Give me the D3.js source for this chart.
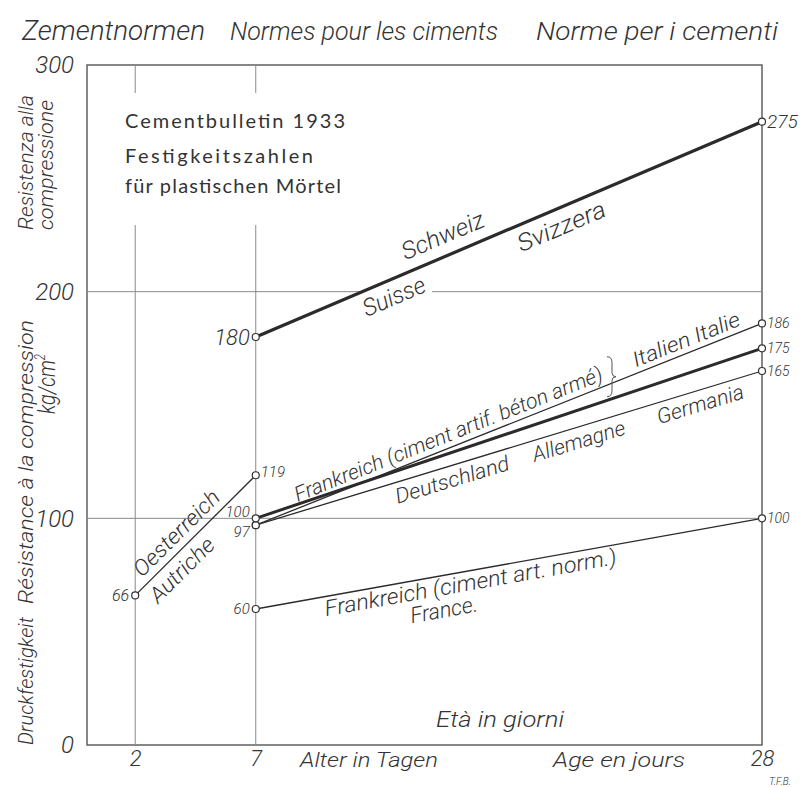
<!DOCTYPE html>
<html>
<head>
<meta charset="utf-8">
<script src="https://cdn.jsdelivr.net/npm/d3@7"></script>
<style>
  body { margin: 0; background: #fff; }
  svg { display: block; }
</style>
</head>
<body>
<div id="chart"></div>
<script>
const width = 800;
const height = 787;

// data
const days = [2, 7, 28];
const yTicks = [0, 100, 200, 300];
const schweiz = [null, 180, 275];
const oesterreich = [66, 119, null];
const italien = [null, 97, 186];
const frankreichArme = [null, 100, 175];
const deutschland = [null, 97, 165];
const frankreichNorm = [null, 60, 100];

const hand = "Roboto, 'DejaVu Sans Condensed', sans-serif";
const ink = "#2b2b2b";
const grey = "#8a8a8a";

const svg = d3.select("#chart").append("svg")
    .attr("width", width)
    .attr("height", height);

const x = d3.scaleLinear().domain([0, 28]).range([87, 762]);
const y = d3.scaleLinear().domain([0, 300]).range([745, 65]);

// line geometry for a series (first and last defined point)
function ends(vals) {
    const idx = vals.map((v, i) => v == null ? -1 : i).filter(i => i >= 0);
    const i0 = idx[0], i1 = idx[idx.length - 1];
    return [[x(days[i0]), y(vals[i0])], [x(days[i1]), y(vals[i1])]];
}

// position on a line, shifted perpendicular (positive = above)
function along(vals, t, off) {
    const [p0, p1] = ends(vals);
    const a = Math.atan2(p1[1] - p0[1], p1[0] - p0[0]);
    return {
        px: p0[0] + t * (p1[0] - p0[0]) + off * Math.sin(a),
        py: p0[1] + t * (p1[1] - p0[1]) - off * Math.cos(a),
        deg: a * 180 / Math.PI
    };
}

function handText(g, tx, ty, str, size, opts = {}) {
    const t = g.append("text")
        .attr("x", tx)
        .attr("y", ty)
        .attr("font-family", hand)
        .attr("font-style", "italic")
        .attr("font-weight", 300)
        .attr("font-size", size)
        .attr("fill", opts.fill || "#333")
        .attr("text-anchor", opts.anchor || "start")
        .text(str);
    if (opts.len) t.attr("textLength", opts.len).attr("lengthAdjust", "spacingAndGlyphs");
    if (opts.rotate != null) t.attr("transform", `rotate(${opts.rotate},${tx},${ty})`);
    if (opts.middle) t.attr("dominant-baseline", "central");
    return t;
}

// top heading
handText(svg, 22, 40, "Zementnormen", 27, { len: 183 });
handText(svg, 230, 40, "Normes pour les ciments", 25, { len: 268 });
handText(svg, 536, 40, "Norme per i cementi", 26, { len: 242 });

// frame
const frame = svg.append("g").attr("stroke", "#555").attr("stroke-width", 1.4).attr("fill", "none");
frame.append("rect")
    .attr("x", x(0)).attr("y", y(300))
    .attr("width", x(28) - x(0)).attr("height", y(0) - y(300));

// grid: verticals at 2 and 7 (interrupted by the title block), horizontals at 100 and 200
const gapTop = 93, gapBottom = 225;
const grid = svg.append("g").attr("stroke", grey).attr("stroke-width", 1);
[2, 7].forEach(d => {
    grid.append("line").attr("x1", x(d)).attr("x2", x(d)).attr("y1", y(300)).attr("y2", gapTop);
    grid.append("line").attr("x1", x(d)).attr("x2", x(d)).attr("y1", gapBottom).attr("y2", y(0));
});
grid.append("line").attr("x1", x(0)).attr("x2", x(28)).attr("y1", y(100)).attr("y2", y(100));
const suisse = along(schweiz, 0.26, -17);
grid.append("line").attr("x1", x(0)).attr("x2", suisse.px - 34).attr("y1", y(200)).attr("y2", y(200));
grid.append("line").attr("x1", suisse.px + 38).attr("x2", x(28)).attr("y1", y(200)).attr("y2", y(200));

// axes
const xAxis = svg.append("g")
    .attr("transform", `translate(0,${y(0)})`)
    .call(d3.axisBottom(x).tickValues(days).tickSize(0).tickPadding(5));
xAxis.select(".domain").remove();
xAxis.selectAll("text")
    .attr("font-family", hand).attr("font-style", "italic").attr("font-weight", 300)
    .attr("font-size", 22).attr("fill", "#333");

const yAxis = svg.append("g")
    .attr("transform", `translate(${x(0)},0)`)
    .call(d3.axisLeft(y).tickValues(yTicks).tickSize(0).tickPadding(13));
yAxis.select(".domain").remove();
yAxis.selectAll("text")
    .attr("font-family", hand).attr("font-style", "italic").attr("font-weight", 300)
    .attr("font-size", 24).attr("fill", "#333");

// axis titles
handText(svg, 300, 767, "Alter in Tagen", 21, { len: 138 });
handText(svg, 553, 767, "Age en jours", 21, { len: 132 });
handText(svg, 500, 727, "Età in giorni", 22, { anchor: "middle", len: 128 });
handText(svg, 780, 785, "T.F.B.", 10, { anchor: "middle" });

handText(svg, 33, 745, "Druckfestigkeit", 21, { rotate: -90, len: 128 });
handText(svg, 33, 604, "Résistance à la compression", 21, { rotate: -90, len: 284 });
handText(svg, 33, 230, "Resistenza alla", 21, { rotate: -90, len: 135 });
handText(svg, 53, 230, "compressione", 21, { rotate: -90, len: 130 });
const kg = handText(svg, 55, 414, "kg/cm", 24, { rotate: -90, len: 60 });
kg.append("tspan").attr("font-size", 14).attr("dy", -10).text("2");

// inner title
const title = svg.append("g")
    .attr("font-family", "Lato, 'Open Sans', sans-serif")
    .attr("font-size", 20)
    .attr("fill", "#333");
title.append("text").attr("x", 125).attr("y", 128).attr("textLength", 220).text("Cementbulletin 1933");
title.append("text").attr("x", 125).attr("y", 163).attr("textLength", 188).text("Festigkeitszahlen");
title.append("text").attr("x", 125).attr("y", 193).attr("textLength", 216).text("für plastischen Mörtel");

// series lines
const series = [
    { vals: schweiz, w: 3.2 },
    { vals: oesterreich, w: 1.3 },
    { vals: italien, w: 1.3 },
    { vals: deutschland, w: 1.3 },
    { vals: frankreichArme, w: 3 },
    { vals: frankreichNorm, w: 1.3 }
];
const line = d3.line()
    .defined(d => d[1] != null)
    .x(d => x(d[0]))
    .y(d => y(d[1]));
svg.append("g").selectAll("path")
    .data(series)
    .join("path")
    .attr("d", s => line(days.map((d, i) => [d, s.vals[i]])))
    .attr("fill", "none")
    .attr("stroke", ink)
    .attr("stroke-width", s => s.w);

// brace tying the béton armé label to its line
const braceX = 612;
const [a0, a1] = ends(frankreichArme);
const braceBot = a0[1] + (braceX - a0[0]) / (a1[0] - a0[0]) * (a1[1] - a0[1]) - 2;
const braceTop = braceBot - 40;
const braceMid = (braceTop + braceBot) / 2;
svg.append("path")
    .attr("d", `M${braceX - 5},${braceTop} Q${braceX},${braceTop} ${braceX},${braceTop + 6}
                L${braceX},${braceMid - 4} Q${braceX},${braceMid} ${braceX + 4},${braceMid}
                Q${braceX},${braceMid} ${braceX},${braceMid + 4}
                L${braceX},${braceBot - 6} Q${braceX},${braceBot} ${braceX - 5},${braceBot}`)
    .attr("fill", "none").attr("stroke", "#555").attr("stroke-width", 1);

// points
const pts = [];
series.forEach(s => s.vals.forEach((v, i) => { if (v != null) pts.push([days[i], v]); }));
svg.append("g").selectAll("circle")
    .data(pts)
    .join("circle")
    .attr("cx", d => x(d[0]))
    .attr("cy", d => y(d[1]))
    .attr("r", 3.5)
    .attr("fill", "#fff")
    .attr("stroke", "#333")
    .attr("stroke-width", 1.2);

// value labels next to points
const valueLabels = [
    { vals: schweiz, i: 1, side: "left", size: 22, dy: 0 },
    { vals: schweiz, i: 2, side: "right", size: 19, dy: 0 },
    { vals: italien, i: 2, side: "right", size: 14, dy: 0 },
    { vals: frankreichArme, i: 2, side: "right", size: 14, dy: 0 },
    { vals: deutschland, i: 2, side: "right", size: 14, dy: 0 },
    { vals: frankreichNorm, i: 2, side: "right", size: 14, dy: 0 },
    { vals: oesterreich, i: 1, side: "right", size: 15, dy: -3 },
    { vals: oesterreich, i: 0, side: "left", size: 16, dy: 0 },
    { vals: frankreichArme, i: 1, side: "left", size: 15, dy: -6 },
    { vals: deutschland, i: 1, side: "left", size: 15, dy: 7 },
    { vals: frankreichNorm, i: 1, side: "left", size: 15, dy: 0 }
];
valueLabels.forEach(l => {
    const px = x(days[l.i]) + (l.side === "left" ? -6 : 5);
    const py = y(l.vals[l.i]) + l.dy;
    handText(svg, px, py, l.vals[l.i], l.size,
        { anchor: l.side === "left" ? "end" : "start", middle: true });
});

// country names written along the lines
const lineLabels = [
    { vals: schweiz, t: 0.385, off: 20, text: "Schweiz", size: 24, len: 88 },
    { vals: schweiz, t: 0.59, off: -18, text: "Svizzera", size: 24, len: 94 },
    { vals: schweiz, t: 0.26, off: -17, text: "Suisse", size: 24, len: 66 },
    { vals: oesterreich, t: 0.43, off: 15, text: "Oesterreich", size: 22, len: 112 },
    { vals: oesterreich, t: 0.30, off: -15, text: "Autriche", size: 22, len: 82 },
    { vals: italien, t: 0.39, off: 13, text: "Frankreich (ciment artif. béton armé)", size: 21, len: 330 },
    { vals: italien, t: 0.86, off: 13, text: "Italien   Italie", size: 21, len: 114 },
    { vals: deutschland, t: 0.38, off: -14, text: "Deutschland", size: 21, len: 118 },
    { vals: deutschland, t: 0.63, off: -14, text: "Allemagne", size: 21, len: 96 },
    { vals: deutschland, t: 0.87, off: -14, text: "Germania", size: 21, len: 90 },
    { vals: frankreichNorm, t: 0.42, off: -12, text: "Frankreich (ciment art. norm.)", size: 22, len: 296 },
    { vals: frankreichNorm, t: 0.36, off: -34, text: "France.", size: 22, len: 68 }
];
lineLabels.forEach(l => {
    const p = along(l.vals, l.t, l.off);
    handText(svg, p.px, p.py, l.text, l.size,
        { anchor: "middle", middle: true, rotate: p.deg, len: l.len });
});
</script>
</body>
</html>
